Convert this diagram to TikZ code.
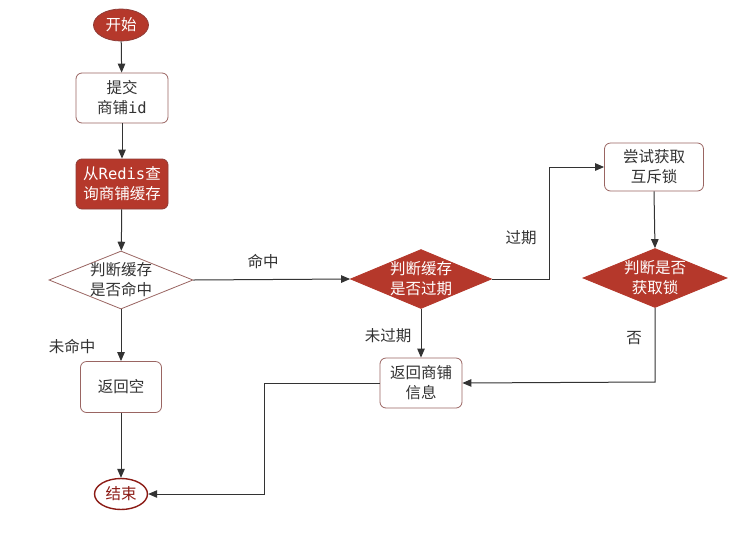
\documentclass[tikz,border=0pt]{standalone}
\usepackage{fontspec}
\setmainfont{Noto Sans CJK SC}
\newfontfamily\monofont{DejaVu Sans Mono}
\usetikzlibrary{shapes.geometric,arrows.meta}
\definecolor{redfill}{HTML}{B5382B}
\definecolor{edgered}{HTML}{8E3B36}
\definecolor{boxedge}{HTML}{9A6562}
\definecolor{txtgray}{HTML}{333333}
\definecolor{endred}{HTML}{8B1A14}
\tikzset{
  base/.style={font=\fontsize{15.5}{20}\selectfont, align=center, inner sep=0pt},
  whitebox/.style={base, draw=boxedge, line width=0.8pt, rounded corners=6pt, fill=white, text=txtgray},
  redbox/.style={base, draw=edgered, line width=0.8pt, rounded corners=6pt, fill=redfill, text=white},
  startell/.style={base, ellipse, draw=edgered, fill=redfill, text=white, line width=0.8pt},
  endell/.style={base, ellipse, draw=endred, fill=white, text=endred, line width=1.4pt},
  diawhite/.style={diamond, draw=boxedge, fill=white, line width=0.8pt, inner sep=0pt},
  diared/.style={diamond, draw=redfill, fill=redfill, line width=0.8pt, inner sep=0pt},
  dtxtw/.style={base, text=txtgray},
  dtxtr/.style={base, text=white},
  lbl/.style={base, text=txtgray},
  conn/.style={draw=black!80, line width=1pt, -{Triangle[length=9pt,width=7.5pt]}},
}
\begin{document}
\begin{tikzpicture}[x=1pt,y=-1pt]
\useasboundingbox[fill=white] (0,0) rectangle (753,542);

\node[startell, minimum width=55pt, minimum height=32pt] (start) at (121,25) {开始};
\node[whitebox, minimum width=92pt, minimum height=50pt] (b1) at (122,98) {提交\\商铺{\monofont id}};
\node[redbox, minimum width=92pt, minimum height=50pt] (b2) at (122,184) {从{\monofont Redis}查\\询商铺缓存};
\node[diawhite, minimum width=144pt, minimum height=58pt,
      label={[dtxtw]center:判断缓存\\是否命中}] (d1) at (121,280) {};
\node[whitebox, minimum width=81pt, minimum height=51pt] (b3) at (121,387) {返回空};
\node[endell, minimum width=53pt, minimum height=31pt] (end) at (121,494) {结束};
\node[diared, minimum width=141pt, minimum height=59pt,
      label={[dtxtr]center:判断缓存\\是否过期}] (d2) at (421,279) {};
\node[whitebox, minimum width=82pt, minimum height=50pt] (b4) at (421,383) {返回商铺\\信息};
\node[whitebox, minimum width=99pt, minimum height=48pt] (b5) at (654,167) {尝试获取\\互斥锁};
\node[diared, minimum width=144pt, minimum height=59pt,
      label={[dtxtr]center:判断是否\\获取锁}] (d3) at (655,278) {};

\coordinate (c1) at (549,279);
\coordinate (c2) at (549,167);
\coordinate (c3) at (655,382);
\coordinate (c4) at (264,383);
\coordinate (c5) at (264,494);

\draw[conn] (start) -- (b1);
\draw[conn] (b1) -- (b2);
\draw[conn] (b2) -- (d1);
\draw[conn] (d1) -- (b3);
\draw[conn] (b3) -- (end);
\draw[conn] (d1.east) -- (d2.west);
\draw[conn] (d2.east) -- (c1) -- (c2) -- (b5.west);
\draw[conn] (d2.south) -- (b4.north);
\draw[conn] (b5.south) -- (d3.north);
\draw[conn] (d3.south) -- (c3) -- (b4.east);
\draw[conn] (b4.west) -- (c4) -- (c5) -- (end.east);

\node[lbl] (l1) at (72,347) {未命中};
\node[lbl] (l2) at (263,262) {命中};
\node[lbl] (l3) at (521,238) {过期};
\node[lbl] (l4) at (388,336) {未过期};
\node[lbl] (l5) at (634,338) {否};
\end{tikzpicture}
\end{document}
